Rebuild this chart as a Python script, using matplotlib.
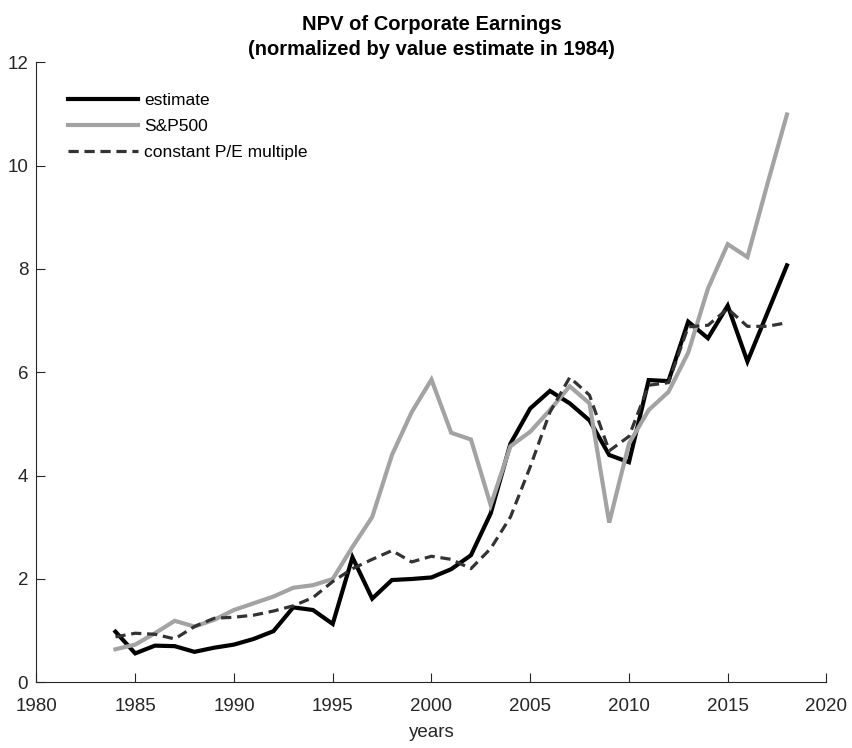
import matplotlib
matplotlib.use("Agg")
import matplotlib.pyplot as plt
import numpy as np

years = list(range(1984, 2019))
estimate = [0.98, 0.56, 0.71, 0.70, 0.59, 0.67, 0.73, 0.84, 0.99, 1.45, 1.40, 1.13,
            2.42, 1.62, 1.98, 2.00, 2.03, 2.19, 2.46, 3.27, 4.62, 5.30, 5.64, 5.40,
            5.07, 4.40, 4.26, 5.85, 5.83, 6.98, 6.66, 7.29, 6.21, 7.14, 8.07]
sp500 = [0.64, 0.73, 0.95, 1.19, 1.08, 1.21, 1.40, 1.53, 1.66, 1.83, 1.88, 2.00,
         2.62, 3.20, 4.40, 5.23, 5.86, 4.83, 4.70, 3.43, 4.57, 4.85, 5.27, 5.73,
         5.40, 3.09, 4.62, 5.27, 5.62, 6.38, 7.62, 8.48, 8.23, 9.63, 10.99]
const_pe = [0.88, 0.95, 0.93, 0.84, 1.08, 1.24, 1.26, 1.30, 1.38, 1.48, 1.64, 1.95,
            2.20, 2.38, 2.55, 2.33, 2.44, 2.38, 2.20, 2.59, 3.20, 4.17, 5.23, 5.90,
            5.56, 4.48, 4.76, 5.75, 5.80, 6.88, 6.91, 7.23, 6.89, 6.89, 6.96]

labels = ["estimate", "S&P500", "constant P/E multiple"]
title = "NPV of Corporate Earnings\n(normalized by value estimate in 1984)"

plt.rcParams['font.family'] = ['Liberation Sans', 'DejaVu Sans']
axcol = '#262626'

fig = plt.figure(figsize=(8.52, 7.48), dpi=100)
ax = fig.add_axes([0.0428, 0.0878, 0.9272, 0.8289])

ax.plot(years, estimate, color='black', lw=3.0, label=labels[0], solid_joinstyle='miter')
ax.plot(years, sp500, color='#a3a3a3', lw=3.0, label=labels[1], solid_joinstyle='miter')
ax.plot(years, const_pe, color='#333333', lw=2.3, label=labels[2], dashes=(3.2, 1.8))

ax.set_xlim(1980, 2020)
ax.set_ylim(0, 12)
ax.set_xticks(np.arange(1980, 2021, 5))
ax.set_yticks(np.arange(0, 13, 2))
for s in ['top', 'right']:
    ax.spines[s].set_visible(False)
for s in ['left', 'bottom']:
    ax.spines[s].set_color(axcol)
    ax.spines[s].set_linewidth(0.8)
ax.tick_params(direction='in', length=6.5, width=0.8, color=axcol, labelcolor=axcol,
               labelsize=13.5)
ax.tick_params(axis='x', pad=11)
ax.tick_params(axis='y', pad=6)
ax.set_xlabel('years', fontsize=13.5, color=axcol, labelpad=7)
ax.set_title(title, fontsize=14.5, fontweight='bold', color='black', pad=5,
             linespacing=1.4)

leg = ax.legend(loc='upper left', frameon=False, fontsize=12.5, handlelength=4.0,
                handletextpad=0.4, labelspacing=0.6, borderpad=0, borderaxespad=0,
                bbox_to_anchor=(0.04, 0.95))

fig.savefig('out.png', dpi=100)
